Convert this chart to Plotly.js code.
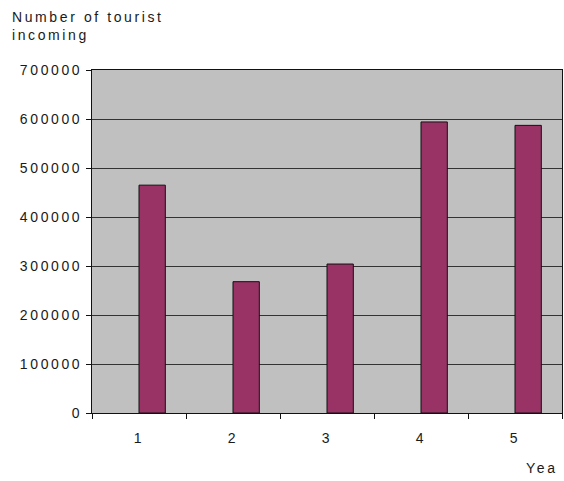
<!DOCTYPE html>
<html>
<head>
<meta charset="utf-8">
<script src="https://cdn.plot.ly/plotly-3.0.1.min.js"></script>
<style>
html,body{margin:0;padding:0;background:#fff;}
#chart text{letter-spacing:2.6px;}
</style>
</head>
<body>
<div id="chart" style="width:564px;height:481px;"></div>
<script>
const years = ['1', '2', '3', '4', '5'];
const tourists = [465000, 268000, 304000, 594000, 587000];
const yTitle = 'Number of tourist<br>incoming';
const xTitle = 'Yea';

const font = {family: 'Liberation Sans, Arial, sans-serif', size: 14, color: '#1a1a1a'};

Plotly.newPlot('chart', [{
  type: 'bar',
  x: years,
  y: tourists,
  offset: 0,
  width: 0.28,
  marker: {color: '#993366', line: {color: '#111', width: 1}},
  hoverinfo: 'none'
}], {
  width: 564, height: 481,
  margin: {l: 92, r: 2, t: 70, b: 68},
  paper_bgcolor: '#fff',
  plot_bgcolor: '#c0c0c0',
  font: font,
  showlegend: false,
  bargap: 0,
  xaxis: {
    type: 'category',
    range: [-0.5, 4.5],
    tickson: 'boundaries',
    ticks: 'outside', ticklen: 5, tickcolor: '#111',
    ticklabelstandoff: 12,
    showline: true, linecolor: '#111', linewidth: 1, mirror: true,
    showgrid: false,
    tickfont: font,
    fixedrange: true
  },
  yaxis: {
    range: [0, 700000],
    dtick: 100000,
    tickformat: 'd',
    ticks: 'outside', ticklen: 5, tickcolor: '#111',
    ticklabelstandoff: 1,
    showline: true, linecolor: '#111', linewidth: 1, mirror: true,
    showgrid: true, gridcolor: '#333', gridwidth: 1,
    zeroline: false,
    tickfont: font,
    fixedrange: true
  },
  annotations: [
    {text: yTitle, xref: 'paper', yref: 'paper', x: -82/470, y: 1 + 63/343, xanchor: 'left', yanchor: 'top', align: 'left', showarrow: false, font: font},
    {text: xTitle, xref: 'paper', yref: 'paper', x: (528-92)/470, y: -55/343, xanchor: 'left', yanchor: 'middle', showarrow: false, font: font}
  ]
}, {displayModeBar: false, staticPlot: true});
</script>
</body>
</html>
